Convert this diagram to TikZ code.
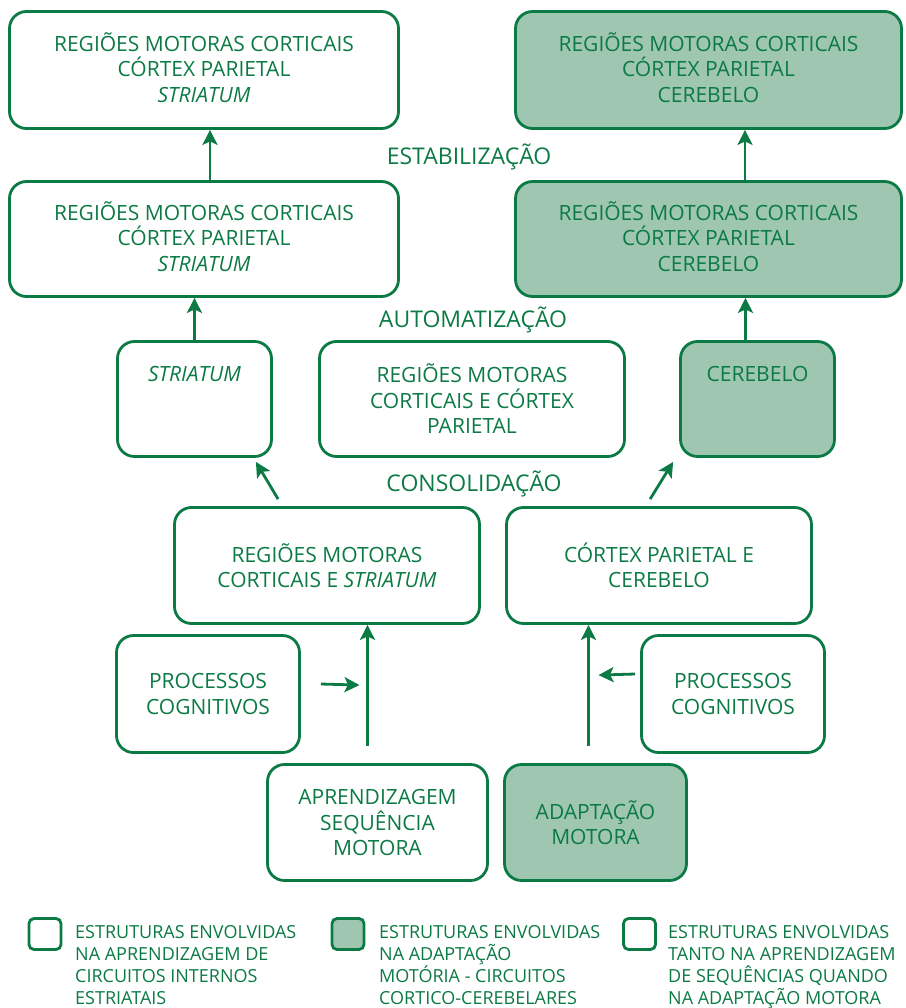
\documentclass[tikz,border=0pt]{standalone}
\usepackage{fontspec}
\setmainfont{Open Sans}
\usetikzlibrary{arrows.meta,calc}
\definecolor{verde}{HTML}{0B7A45}
\definecolor{verdeclaro}{HTML}{9FC6B1}
\tikzset{
  caixa/.style={draw=verde, line width=2.8pt, rounded corners=17pt, text=verde,
    align=center, inner sep=0pt, font=\fontsize{21}{25.5}\selectfont},
  adapt/.style={caixa, fill=verdeclaro},
  fase/.style={text=verde, inner sep=0pt, font=\fontsize{23}{26}\selectfont},
  seta/.style={draw=verde, line width=2.8pt, -{Stealth[length=15pt,width=15pt,inset=3.5pt]}},
  legbox/.style={draw=verde, line width=2.8pt, rounded corners=5pt, minimum width=32pt, minimum height=31pt, inner sep=0pt},
  legtxt/.style={text=verde, align=left, inner sep=0pt, anchor=north west,
    font=\fontsize{18}{22}\selectfont},
}
\begin{document}
\begin{tikzpicture}[x=1pt,y=-1pt]
\useasboundingbox (0,0) rectangle (905,1008);

% top row
\node[caixa, minimum width=389pt, minimum height=117pt] (r1l) at (204,70)
  {REGIÕES MOTORAS CORTICAIS\\CÓRTEX PARIETAL\\\textit{STRIATUM}\rule[-5pt]{0pt}{0pt}};
\node[adapt, minimum width=386pt, minimum height=117pt] (r1r) at (708.5,70)
  {REGIÕES MOTORAS CORTICAIS\\CÓRTEX PARIETAL\\CEREBELO\rule[-5pt]{0pt}{0pt}};

\node[fase] (estab) at (469,157) {ESTABILIZAÇÃO};

% second row
\node[caixa, minimum width=389pt, minimum height=115pt] (r2l) at (204,239)
  {REGIÕES MOTORAS CORTICAIS\\CÓRTEX PARIETAL\\\textit{STRIATUM}\rule[-5pt]{0pt}{0pt}};
\node[adapt, minimum width=386pt, minimum height=115pt] (r2r) at (708.5,239)
  {REGIÕES MOTORAS CORTICAIS\\CÓRTEX PARIETAL\\CEREBELO\rule[-5pt]{0pt}{0pt}};

\node[fase] (autom) at (473,320) {AUTOMATIZAÇÃO};

% third row
\node[caixa, minimum width=154pt, minimum height=115pt] (r3s) at (194.5,399)
  {\textit{STRIATUM}\\\phantom{X}\\\phantom{X}};
\node[caixa, minimum width=305pt, minimum height=115pt] (r3m) at (472,399)
  {REGIÕES MOTORAS\\CORTICAIS E CÓRTEX\\PARIETAL};
\node[adapt, minimum width=154pt, minimum height=115pt] (r3c) at (757.5,399)
  {CEREBELO\\\phantom{X}\\\phantom{X}};

\node[fase] (consol) at (474,484) {CONSOLIDAÇÃO};

% fourth row
\node[caixa, minimum width=305pt, minimum height=116pt] (r4l) at (327,565.5)
  {REGIÕES MOTORAS\\CORTICAIS E \textit{STRIATUM}};
\node[caixa, minimum width=305pt, minimum height=116pt] (r4r) at (659,565.5)
  {CÓRTEX PARIETAL E\\CEREBELO};

% cognitive processes
\node[caixa, minimum width=183pt, minimum height=117pt] (pcl) at (208,694)
  {PROCESSOS\\COGNITIVOS};
\node[caixa, minimum width=183pt, minimum height=117pt] (pcr) at (733,694)
  {PROCESSOS\\COGNITIVOS};

% starting tasks
\node[caixa, minimum width=220pt, minimum height=116pt] (apr) at (377.5,822.5)
  {APRENDIZAGEM\\SEQUÊNCIA\\MOTORA};
\node[adapt, minimum width=182pt, minimum height=116pt] (ada) at (595.5,822.5)
  {ADAPTAÇÃO\\MOTORA};

% connectors
\draw[seta] ([xshift=6pt]r2l.north) -- ([xshift=6pt]r1l.south);
\draw[seta] ([xshift=36.5pt]r2r.north) -- ([xshift=36.5pt]r1r.south);
\draw[seta] (r3s.north) -- (r3s.north |- r2l.south);
\draw[seta] ([xshift=-12pt]r3c.north) -- ([xshift=-12pt]r3c.north |- r2r.south);
\draw[seta] ($(r4l.north west)+(105,-7)$) -- ($(r3s.south east)+(-17,4)$);
\draw[seta] ($(r4r.north west)+(145,-7)$) -- ($(r3c.south west)+(-6,4)$);
\coordinate (apr-top) at ($(apr.north)+(-10,-17)$);
\coordinate (ada-top) at ($(ada.north)+(-7,-17)$);
\draw[seta] (apr-top) -- (apr-top |- r4l.south);
\draw[seta] (ada-top) -- (ada-top |- r4r.south);
\draw[seta] ($(pcl.east)+(20,-10)$) -- ($(apr-top)+(-8,-61)$);
\draw[seta] ($(pcr.west)+(-5,-20)$) -- ($(ada-top)+(10,-71)$);

% legend
\node[legbox] (lg1) at (45,934) {};
\node[legbox, fill=verdeclaro] (lg2) at (348,934) {};
\node[legbox] (lg3) at (639.5,934) {};
\node[legtxt] (lt1) at (75,925)
  {ESTRUTURAS ENVOLVIDAS\\NA APRENDIZAGEM DE\\CIRCUITOS INTERNOS\\ESTRIATAIS};
\node[legtxt] (lt2) at (379,925)
  {ESTRUTURAS ENVOLVIDAS\\NA ADAPTAÇÃO\\MOTÓRIA - CIRCUITOS\\CORTICO-CEREBELARES};
\node[legtxt] (lt3) at (668,925)
  {ESTRUTURAS ENVOLVIDAS\\TANTO NA APRENDIZAGEM\\DE SEQUÊNCIAS QUANDO\\NA ADAPTAÇÃO MOTORA};
\end{tikzpicture}
\end{document}
